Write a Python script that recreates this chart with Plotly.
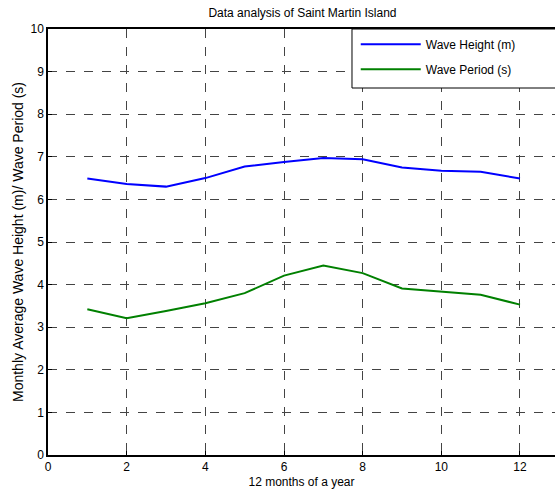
import plotly.graph_objects as go

months = [1, 2, 3, 4, 5, 6, 7, 8, 9, 10, 11, 12]
wave_height = [6.49, 6.36, 6.30, 6.50, 6.77, 6.88, 6.97, 6.94, 6.75, 6.67, 6.65, 6.49]
wave_period = [3.42, 3.21, 3.38, 3.56, 3.80, 4.21, 4.45, 4.27, 3.91, 3.84, 3.76, 3.53]
x_ticks = [0, 2, 4, 6, 8, 10, 12]
y_ticks = [0, 1, 2, 3, 4, 5, 6, 7, 8, 9, 10]
series_names = ["Wave Height (m)", "Wave Period (s)"]

FONT = "Liberation Sans, Arial, sans-serif"

fig = go.Figure()
fig.add_trace(go.Scatter(x=months, y=wave_height, mode="lines", name=series_names[0],
                         line=dict(color="#0000ff", width=2), legendgroup="a"))
fig.add_trace(go.Scatter(x=months, y=wave_period, mode="lines", name=series_names[1],
                         line=dict(color="#008000", width=2), legendgroup="b"))

# legend frame (extends past the right edge, as in the cropped original)
fig.add_shape(type="rect", xref="paper", yref="paper", x0=0.5996, x1=1.05, y0=0.8615, y1=1.0,
              line=dict(color="black", width=1), fillcolor="white", layer="above")

fig.update_layout(
    width=555, height=496,
    margin=dict(l=48, r=0, t=29, b=41),
    plot_bgcolor="white", paper_bgcolor="white",
    font=dict(family=FONT, size=12, color="black"),
    title=dict(text="Data analysis of Saint Martin Island", x=0.545, xanchor="center",
               y=0.975, yanchor="middle", font=dict(size=12, family=FONT)),
    showlegend=True,
    legend=dict(x=0.607, xanchor="left", y=0.998, yanchor="top", bgcolor="rgba(0,0,0,0)",
                borderwidth=0, tracegroupgap=6,
                font=dict(size=12, family=FONT), itemwidth=60),
    xaxis=dict(range=[0, 12.89], tickvals=x_ticks, showgrid=True, gridcolor="#444444",
               griddash="dash", gridwidth=1, zeroline=False, showline=True,
               linecolor="black", linewidth=1.5, mirror=True, ticks="inside", ticklen=4,
               tickcolor="black",
               title=dict(text="12 months of a year", standoff=4, font=dict(size=12)),
               tickfont=dict(size=12)),
    yaxis=dict(range=[0, 10], tickvals=y_ticks, showgrid=True, gridcolor="#444444",
               griddash="dash", gridwidth=1, zeroline=False, showline=True,
               linecolor="black", linewidth=1.5, mirror=False, ticks="inside", ticklen=4,
               tickcolor="black",
               title=dict(text="Monthly Average Wave Height (m)/ Wave Period (s)",
                          standoff=4, font=dict(size=14)),
               tickfont=dict(size=12)),
)

fig.write_html("out.html")
